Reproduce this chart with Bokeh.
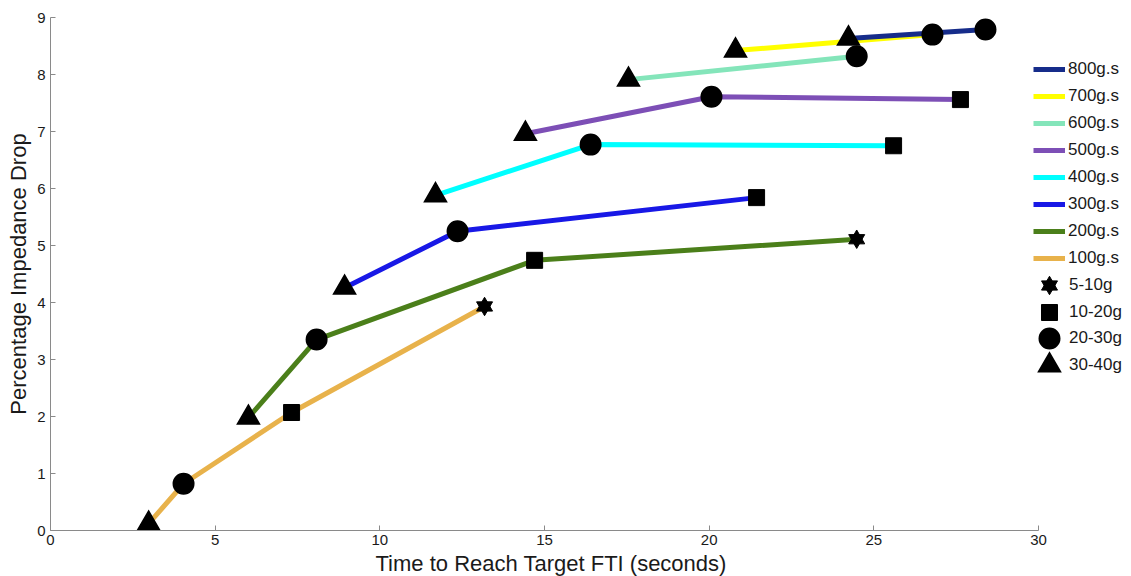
from bokeh.plotting import figure
from bokeh.models import Range1d, SingleIntervalTicker, Legend, LegendItem, Title
from bokeh.embed import file_html
from bokeh.resources import INLINE

# ---------------- data ----------------
series_labels = ["100g.s", "200g.s", "300g.s", "400g.s", "500g.s", "600g.s", "700g.s", "800g.s"]
series_colors = ["#E8B24B", "#4B7F1A", "#1818E6", "#00FFFF", "#7D4FB6", "#84E5BA", "#FFFF00", "#162C8A"]

time_100 = [2.98, 4.04, 7.32, 13.18]
drop_100 = [0.12, 0.82, 2.07, 3.93]
time_200 = [6.01, 8.08, 14.70, 24.48]
drop_200 = [1.98, 3.35, 4.74, 5.11]
time_300 = [8.93, 12.36, 21.44]
drop_300 = [4.26, 5.25, 5.84]
time_400 = [11.69, 16.40, 25.60]
drop_400 = [5.88, 6.77, 6.75]
time_500 = [14.42, 20.07, 27.63]
drop_500 = [6.96, 7.61, 7.56]
time_600 = [17.55, 24.48]
drop_600 = [7.91, 8.32]
time_700 = [20.80, 26.78]
drop_700 = [8.42, 8.70]
time_800 = [24.23, 28.39]
drop_800 = [8.63, 8.79]

# point i of every series belongs to mass class i
mass_classes = ["30-40g", "20-30g", "10-20g", "5-10g"]

x_axis_span = (0, 30)
y_axis_span = (0, 9)
x_ticks_interval = 5
y_ticks_interval = 1
x_label = "Time to Reach Target FTI (seconds)"
y_label = "Percentage Impedance Drop"

times = [time_100, time_200, time_300, time_400, time_500, time_600, time_700, time_800]
drops = [drop_100, drop_200, drop_300, drop_400, drop_500, drop_600, drop_700, drop_800]

FONT = "Liberation Sans"
TXT = "#1a1a1a"
AX = "#8a8a8a"

# axis area is 988 px wide for 30 units; the frame runs on to the page edge so
# that the legend (which sits right of the axes) is not clipped
PX_PER_UNIT = 988 / 30
FRAME_W = 1079

p = figure(frame_width=FRAME_W, frame_height=513,
           x_range=Range1d(0, FRAME_W / PX_PER_UNIT), y_range=Range1d(*y_axis_span),
           output_backend="svg", toolbar_location=None,
           min_border_left=50, min_border_top=17, min_border_right=0, min_border_bottom=0,
           background_fill_color="white", border_fill_color="white")
p.outline_line_color = None
p.grid.visible = False

p.xaxis.ticker = SingleIntervalTicker(interval=x_ticks_interval, num_minor_ticks=0)
p.yaxis.ticker = SingleIntervalTicker(interval=y_ticks_interval, num_minor_ticks=0)
p.xaxis.bounds = x_axis_span
for ax in (p.xaxis, p.yaxis):
    ax.axis_line_color = AX
    ax.major_tick_line_color = AX
    ax.major_tick_in = 5
    ax.major_tick_out = 0
    ax.minor_tick_line_color = None
    ax.major_label_text_font = FONT
    ax.major_label_text_font_size = "15px"
    ax.major_label_text_color = TXT
    ax.axis_label_text_font = FONT
    ax.axis_label_text_font_style = "normal"
    ax.axis_label_text_color = TXT
p.yaxis.axis_label_text_font_size = "22px"
p.yaxis.axis_label = y_label
p.xaxis.major_label_standoff = 4
p.yaxis.major_label_standoff = 5
p.yaxis.axis_label_standoff = 3

# x-axis title, aligned under the 0..30 axis span (the frame itself is wider)
p.add_layout(Title(text=x_label, align="left", offset=325, standoff=2,
                   text_font=FONT, text_font_size="22px", text_font_style="normal",
                   text_color=TXT), "below")

# ---------------- lines ----------------
line_renderers = []
for lab, col, t, d in zip(series_labels, series_colors, times, drops):
    r = p.line(t, d, line_color=col, line_width=5, line_join="round")
    line_renderers.append(r)

# ---------------- markers by mass class ----------------
cls_x = [[t[i] for t in times if len(t) > i] for i in range(len(mass_classes))]
cls_y = [[d[i] for d in drops if len(d) > i] for i in range(len(mass_classes))]

mk = dict(fill_color="black", line_color="black", line_join="miter", size=16)
r_tri = p.scatter(cls_x[0], cls_y[0], marker="triangle", line_width=5, **mk)
r_cir = p.scatter(cls_x[1], cls_y[1], marker="circle", line_width=6, **mk)
r_sq = p.scatter(cls_x[2], cls_y[2], marker="square", line_width=1, **mk)
r_h1 = p.scatter(cls_x[3], cls_y[3], marker="triangle", line_width=1, **mk)
r_h2 = p.scatter(cls_x[3], cls_y[3], marker="inverted_triangle", line_width=1, **mk)

# ---------------- legends ----------------
leg_common = dict(padding=0, margin=0, border_line_color=None,
                  background_fill_alpha=0, label_text_font=FONT,
                  label_text_font_size="17px", label_text_color=TXT)

items = [LegendItem(label=lab, renderers=[r])
         for lab, r in zip(series_labels[::-1], line_renderers[::-1])]
line_legend = Legend(items=items, location=(983, 260), glyph_width=32, glyph_height=24,
                     label_height=24, spacing=3, label_standoff=3, **leg_common)
p.add_layout(line_legend)

marker_specs = [
    (mass_classes[3], [r_h1, r_h2], (979, 225)),
    (mass_classes[2], [r_sq], (979, 198)),
    (mass_classes[1], [r_cir], (979, 172)),
    (mass_classes[0], [r_tri], (979, 145)),
]
for lab, rs, loc in marker_specs:
    lg = Legend(items=[LegendItem(label=lab, renderers=rs)], location=loc,
                glyph_width=40, glyph_height=40, label_height=40, spacing=0,
                label_standoff=0, **leg_common)
    p.add_layout(lg)

open("out.html", "w").write(file_html(p, INLINE))
